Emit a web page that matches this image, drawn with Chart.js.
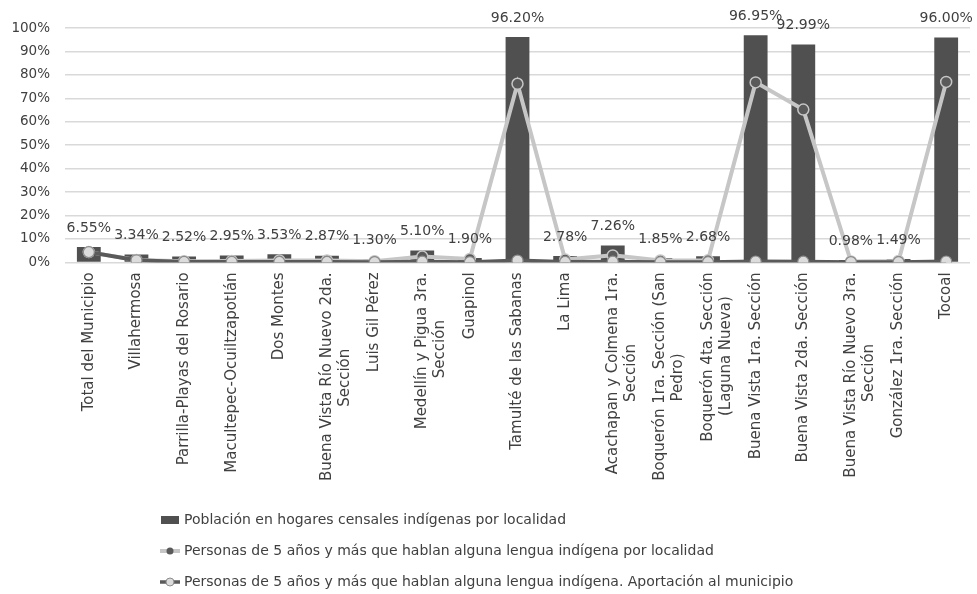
<!DOCTYPE html>
<html lang="es">
<head>
<meta charset="utf-8">
<title>Población indígena por localidad</title>
<script src="https://cdn.jsdelivr.net/npm/chart.js@4.4.1/dist/chart.umd.min.js"></script>
<style>
    html, body { margin: 0; padding: 0; background: #fff; }
    canvas { display: block; }
</style>
</head>
<body>
<canvas id="chart" width="977" height="594"></canvas>
<script>
// DATA

const localidades = [
    "Total del Municipio",
    "Villahermosa",
    "Parrilla-Playas del Rosario",
    "Macultepec-Ocuiltzapotlán",
    "Dos Montes",
    ["Buena Vista Río Nuevo 2da.", "Sección"],
    "Luis Gil Pérez",
    ["Medellín y Pigua 3ra.", "Sección"],
    "Guapinol",
    "Tamulté de las Sabanas",
    "La Lima",
    ["Acachapan y Colmena 1ra.", "Sección"],
    ["Boquerón 1ra. Sección (San", "Pedro)"],
    ["Boquerón 4ta. Sección", "(Laguna Nueva)"],
    "Buena Vista 1ra. Sección",
    "Buena Vista 2da. Sección",
    ["Buena Vista Río Nuevo 3ra.", "Sección"],
    "González 1ra. Sección",
    "Tocoal"
];

const poblacionHogares = [6.55, 3.34, 2.52, 2.95, 3.53, 2.87, 1.30, 5.10, 1.90, 96.20, 2.78, 7.26, 1.85, 2.68, 96.95, 92.99, 0.98, 1.49, 96.00];
const hablantesLocalidad = [4.4, 1.0, 0.5, 0.6, 0.8, 0.8, 0.5, 2.5, 1.5, 76.2, 1.2, 3.0, 0.8, 0.9, 76.8, 65.2, 0.4, 0.6, 77.0];
const aportacionMunicipio = [4.4, 0.9, 0.2, 0.2, 0.2, 0.2, 0.1, 0.3, 0.1, 0.8, 0.2, 0.3, 0.1, 0.1, 0.4, 0.3, 0.1, 0.1, 0.4];

const seriesNames = [
    "Población en hogares censales indígenas por localidad",
    "Personas de 5 años y más que hablan alguna lengua indígena por localidad",
    "Personas de 5 años y más que hablan alguna lengua indígena. Aportación al municipio"
];

const yMin = 0;
const yMax = 100;
const yStep = 10;

// STYLE

const FONT = '"DejaVu Sans", sans-serif';
const TEXT = "#404040";
const BAR = "#505050";
const LIGHT_LINE = "#c6c6c6";
const DARK_LINE = "#5a5a5a";

Chart.defaults.font.family = FONT;
Chart.defaults.color = TEXT;

// center the short second line of a two-line rotated label under the first one

function centerLines(label, size) {
    if (!Array.isArray(label)) return label;
    const ctx = document.createElement("canvas").getContext("2d");
    ctx.font = size + "px " + FONT;
    const full = ctx.measureText(label[0]).width;
    const space = ctx.measureText(" ").width;
    return label.map(line => {
        const gap = (full - ctx.measureText(line).width) / 2;
        return line + " ".repeat(Math.max(0, Math.round(gap / space)));
    });
}

// LEGEND ICONS

function legendIcon(draw) {
    const c = document.createElement("canvas");
    c.width = 22;
    c.height = 12;
    draw(c.getContext("2d"));
    return c;
}

const legendIcons = [
    legendIcon(ctx => {
        ctx.fillStyle = BAR;
        ctx.fillRect(2, 2, 18, 8);
    }),
    legendIcon(ctx => {
        ctx.strokeStyle = LIGHT_LINE;
        ctx.lineWidth = 4;
        ctx.beginPath(); ctx.moveTo(1, 6); ctx.lineTo(21, 6); ctx.stroke();
        ctx.fillStyle = DARK_LINE;
        ctx.beginPath(); ctx.arc(11, 6, 3.5, 0, Math.PI * 2); ctx.fill();
    }),
    legendIcon(ctx => {
        ctx.strokeStyle = DARK_LINE;
        ctx.lineWidth = 3.5;
        ctx.beginPath(); ctx.moveTo(1, 6); ctx.lineTo(21, 6); ctx.stroke();
        ctx.fillStyle = "#dcdcdc";
        ctx.strokeStyle = "#8c8c8c";
        ctx.lineWidth = 1;
        ctx.beginPath(); ctx.arc(11, 6, 4, 0, Math.PI * 2); ctx.fill(); ctx.stroke();
    })
];

// PLUGINS

const barValueLabels = {
    id: "barValueLabels",
    afterDatasetsDraw(chart) {
        const ctx = chart.ctx;
        const meta = chart.getDatasetMeta(0);
        ctx.save();
        ctx.font = "14px " + FONT;
        ctx.fillStyle = TEXT;
        ctx.textAlign = "center";
        ctx.textBaseline = "middle";
        meta.data.forEach((bar, i) => {
            ctx.fillText(poblacionHogares[i].toFixed(2) + "%", bar.x, bar.y - 19);
        });
        ctx.restore();
    }
};

// legend rows start at a fixed x (left aligned) and a fixed y
const legendPlacement = {
    id: "legendPlacement",
    afterLayout(chart) {
        const legend = chart.legend;
        const h = legend.bottom - legend.top;
        legend.left = 146;
        legend.top = 496;
        legend.bottom = 496 + h;
    }
};

// CHART

new Chart(document.getElementById("chart"), {
    type: "bar",
    data: {
        labels: localidades.map(l => centerLines(l, 15)),
        datasets: [
            {
                label: seriesNames[0],
                data: poblacionHogares,
                backgroundColor: BAR,
                barPercentage: 0.5,
                categoryPercentage: 1,
                order: 3
            },
            {
                type: "line",
                label: seriesNames[1],
                data: hablantesLocalidad,
                borderColor: LIGHT_LINE,
                backgroundColor: LIGHT_LINE,
                borderWidth: 4,
                tension: 0,
                pointRadius: 5.5,
                pointBorderWidth: 1.5,
                pointBackgroundColor: DARK_LINE,
                pointBorderColor: LIGHT_LINE,
                order: 2
            },
            {
                type: "line",
                label: seriesNames[2],
                data: aportacionMunicipio,
                borderColor: DARK_LINE,
                backgroundColor: DARK_LINE,
                borderWidth: 4,
                tension: 0,
                pointRadius: 5.5,
                pointBorderWidth: 1.2,
                pointBackgroundColor: "#dcdcdc",
                pointBorderColor: "#8c8c8c",
                order: 1
            }
        ]
    },
    options: {
        responsive: false,
        animation: false,
        layout: { padding: { left: 0, right: 5, top: 28, bottom: 8 } },
        scales: {
            x: {
                grid: { display: false },
                border: { display: false },
                afterFit(scale) {
                    scale.paddingLeft = 0;
                    scale.paddingRight = 0;
                },
                ticks: {
                    autoSkip: false,
                    maxRotation: 90,
                    minRotation: 90,
                    padding: 2,
                    color: TEXT,
                    font: { size: 15 }
                }
            },
            y: {
                min: yMin,
                max: yMax,
                grid: { color: "#d9d9d9", lineWidth: 1.5, drawTicks: false },
                border: { display: false },
                afterFit(scale) {
                    scale.width = 65;
                },
                ticks: {
                    stepSize: yStep,
                    padding: 15,
                    color: TEXT,
                    font: { size: 13.5 },
                    callback: v => v + "%"
                }
            }
        },
        plugins: {
            tooltip: { enabled: false },
            legend: {
                position: "bottom",
                align: "start",
                labels: {
                    usePointStyle: true,
                    pointStyleWidth: 14,
                    padding: 17,
                    color: TEXT,
                    font: { size: 14 },
                    sort: (a, b) => a.datasetIndex - b.datasetIndex,
                    generateLabels(chart) {
                        const items = Chart.defaults.plugins.legend.labels.generateLabels(chart);
                        items.forEach(item => { item.pointStyle = legendIcons[item.datasetIndex]; });
                        return items;
                    }
                }
            }
        }
    },
    plugins: [barValueLabels, legendPlacement]
});
</script>
</body>
</html>
